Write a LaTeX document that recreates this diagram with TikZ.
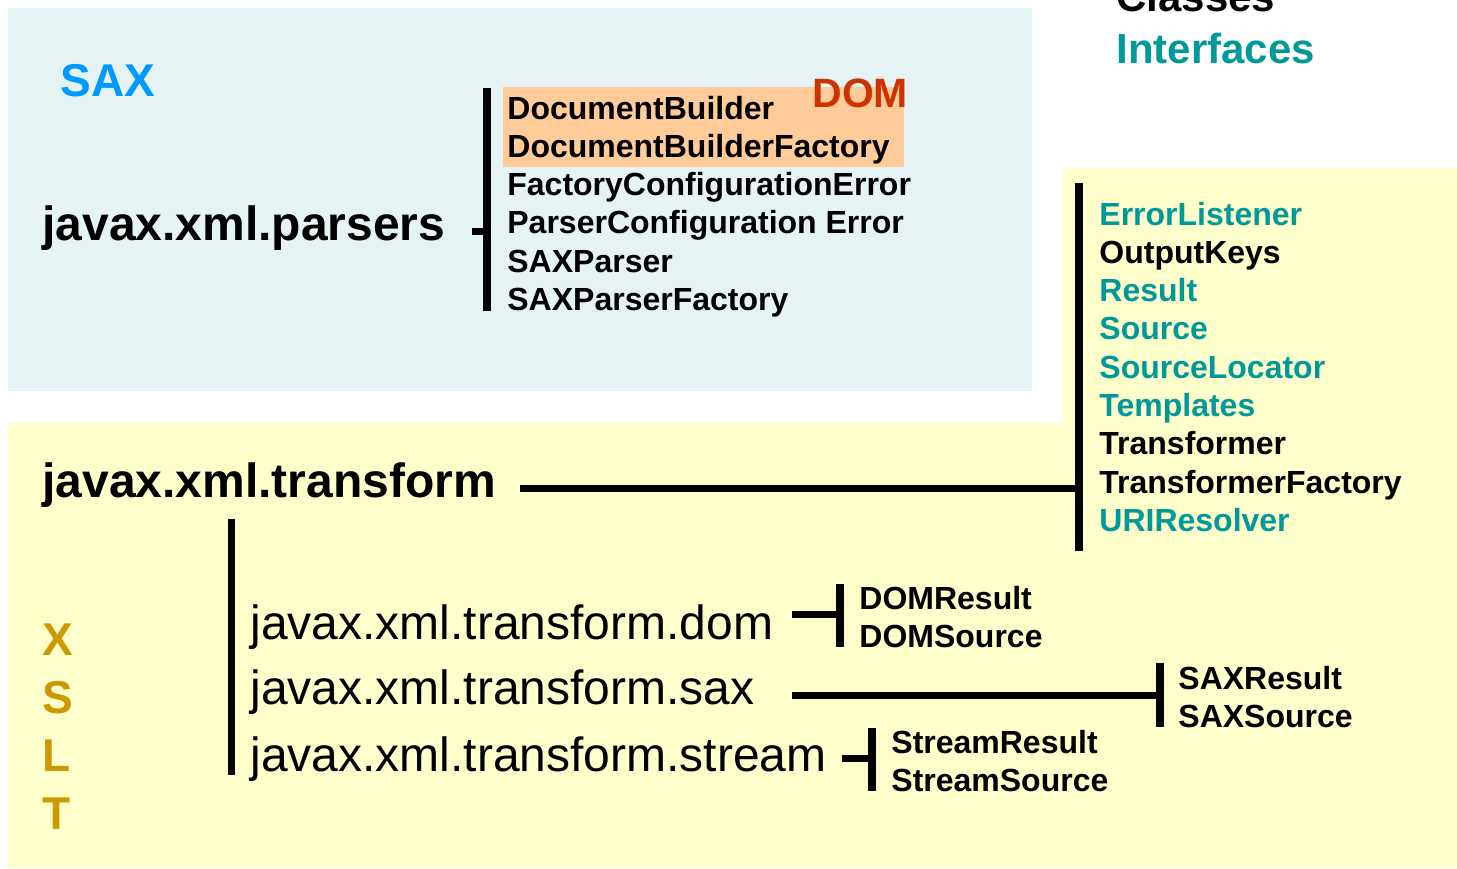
\documentclass[tikz,border=0pt]{standalone}
\usepackage{fontspec}
\setmainfont{Liberation Sans}
\usetikzlibrary{positioning}
\definecolor{saxbg}{RGB}{229,243,244}
\definecolor{xsltbg}{RGB}{255,255,204}
\definecolor{dombg}{RGB}{255,204,153}
\definecolor{saxblue}{RGB}{0,153,255}
\definecolor{domred}{RGB}{204,51,0}
\definecolor{ifacecolor}{RGB}{0,153,153}
\definecolor{xsltgold}{RGB}{204,153,0}

\begin{document}
\begin{tikzpicture}[
    x=0.5pt, y=-0.5pt,
    pkg/.style={anchor=base west, inner sep=0pt, font=\fontsize{24}{28}\selectfont\bfseries},
    subpkg/.style={anchor=base west, inner sep=0pt, font=\fontsize{24}{28}\selectfont},
    cls/.style={anchor=base west, inner sep=0pt, font=\fontsize{16}{19}\selectfont\bfseries},
    iface/.style={cls, text=ifacecolor},
    tag/.style={anchor=base west, inner sep=0pt, font=\fontsize{23}{27}\selectfont\bfseries},
    bar/.style={line width=4pt},
    tick/.style={line width=3.5pt}
]
    \useasboundingbox (0,0) rectangle (1457,868);

    % Backgrounds
    \fill[saxbg] (8,8) rectangle (1032,391);
    \fill[xsltbg] (8,423) -- (1063,423) -- (1063,168) -- (1457,168) -- (1457,868) -- (8,868) -- cycle;
    \fill[dombg] (503,87) rectangle (904,167);

    % Legend
    \node[tag, font=\fontsize{21}{25}\selectfont\bfseries] (classes) at (1116,11) {Classes};
    \node[tag, font=\fontsize{21}{25}\selectfont\bfseries, text=ifacecolor] (interfaces) at (1116,63) {Interfaces};

    % javax.xml.parsers
    \node[tag, text=saxblue] (sax) at (60,96) {SAX};
    \node[tag, font=\fontsize{20.5}{24}\selectfont\bfseries, text=domred] (dom) at (812,107) {DOM};
    \node[pkg] (parsers) at (42,240) {javax.xml.parsers};

    \coordinate (ptop) at (487,88);
    \coordinate (pbot) at (487,311);
    \coordinate (ptick) at (472,231);
    \draw[bar] (ptop) -- (pbot);
    \draw[tick] (ptick) -- (ptick -| ptop);

    \node[cls] (docbuilder) at (507,119) {DocumentBuilder};
    \node[cls] (docfactory) at (507,157.3) {DocumentBuilderFactory};
    \node[cls] (facterror) at (507,195.6) {FactoryConfigurationError};
    \node[cls] (parsererror) at (507,233.9) {ParserConfiguration Error};
    \node[cls] (saxparser) at (507,272.2) {SAXParser};
    \node[cls] (saxfactory) at (507,310.5) {SAXParserFactory};

    % javax.xml.transform
    \node[pkg] (transform) at (42,497) {javax.xml.transform};

    \coordinate (ttop) at (1079,183);
    \coordinate (tbot) at (1079,551);
    \coordinate (tstart) at (520,488);
    \draw[bar] (ttop) -- (tbot);
    \draw[tick] (tstart) -- (tstart -| ttop);

    \node[iface] (errlistener) at (1099,225) {ErrorListener};
    \node[cls] (outputkeys) at (1099,263.3) {OutputKeys};
    \node[iface] (result) at (1099,301.6) {Result};
    \node[iface] (source) at (1099,339.9) {Source};
    \node[iface] (locator) at (1099,378.2) {SourceLocator};
    \node[iface] (templates) at (1099,416.5) {Templates};
    \node[cls] (transformer) at (1099,454.8) {Transformer};
    \node[cls] (tfactory) at (1099,493.1) {TransformerFactory};
    \node[iface] (resolver) at (1099,531.4) {URIResolver};

    % XSLT sub-packages
    \node[tag, text=xsltgold] (xX) at (42,655) {X};
    \node[tag, text=xsltgold] (xS) at (42,713) {S};
    \node[tag, text=xsltgold] (xL) at (42,771) {L};
    \node[tag, text=xsltgold] (xT) at (42,829) {T};

    \draw[tick] (231,519) -- (231,775);

    \node[subpkg] (tdom) at (250,639) {javax.xml.transform.dom};
    \node[subpkg] (tsax) at (250,704) {javax.xml.transform.sax};
    \node[subpkg] (tstream) at (250,771) {javax.xml.transform.stream};

    % dom
    \coordinate (dtop) at (840,584);
    \coordinate (dbot) at (840,647);
    \coordinate (dstart) at (792,614);
    \draw[bar] (dtop) -- (dbot);
    \draw[tick] (dstart) -- (dstart -| dtop);
    \node[cls] (domresult) at (859,609) {DOMResult};
    \node[cls] (domsource) at (859,647) {DOMSource};

    % sax
    \coordinate (stop) at (1160,663);
    \coordinate (sbot) at (1160,727);
    \coordinate (sstart) at (792,695);
    \draw[bar] (stop) -- (sbot);
    \draw[tick] (sstart) -- (sstart -| stop);
    \node[cls] (saxresult) at (1178,689) {SAXResult};
    \node[cls] (saxsource) at (1178,727) {SAXSource};

    % stream
    \coordinate (rtop) at (872,728);
    \coordinate (rbot) at (872,791);
    \coordinate (rstart) at (842,758);
    \draw[bar] (rtop) -- (rbot);
    \draw[tick] (rstart) -- (rstart -| rtop);
    \node[cls] (streamresult) at (891,753) {StreamResult};
    \node[cls] (streamsource) at (891,791) {StreamSource};
\end{tikzpicture}
\end{document}
